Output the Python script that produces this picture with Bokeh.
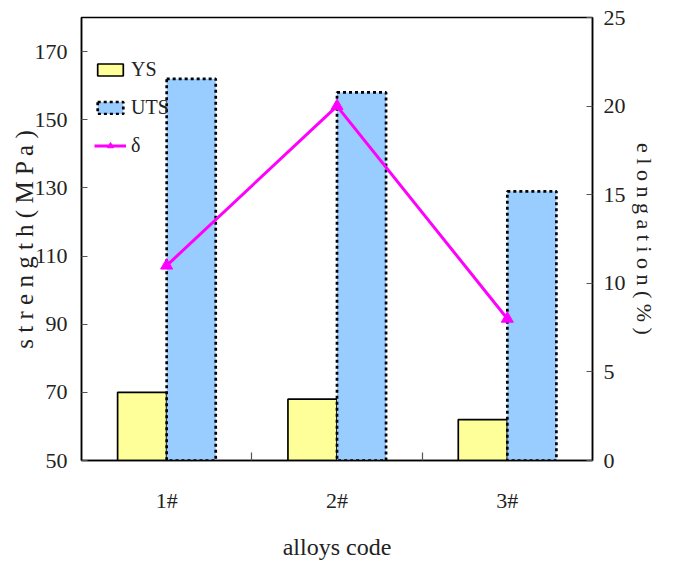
from bokeh.plotting import figure
from bokeh.models import Range1d, LinearAxis, FixedTicker, Legend, LegendItem, ColumnDataSource
from bokeh.embed import file_html
from bokeh.resources import INLINE
import numpy as np

categories = ["1#", "2#", "3#"]
ys_values = [70, 68, 62]
uts_values = [162, 158, 129]
elongation = [11, 20, 8]
strength_ticks = [50, 70, 90, 110, 130, 150, 170]
elong_ticks = [0, 5, 10, 15, 20, 25]

FONT = "Liberation Serif"
xc = np.arange(len(categories)) + 0.5
bw = 0.288

src = ColumnDataSource(dict(
    x_ys=xc - bw / 2, x_uts=xc + bw / 2, xc=xc,
    ys=ys_values, uts=uts_values, el=elongation,
))

p = figure(frame_width=511, frame_height=443, output_backend="svg", toolbar_location=None,
           x_range=Range1d(0, len(categories)), y_range=Range1d(50, 180),
           min_border_left=81, min_border_right=74, min_border_top=17, min_border_bottom=95,
           background_fill_color="white", border_fill_color="white")
p.extra_y_ranges = {"el": Range1d(0, 25)}
p.xgrid.visible = False
p.ygrid.visible = False
p.outline_line_color = "black"
p.outline_line_width = 1.5

ys_r = p.vbar(x="x_ys", top="ys", bottom=50, width=bw, source=src,
              fill_color="#FFFF99", line_color="black", line_width=1.7)
uts_r = p.vbar(x="x_uts", top="uts", bottom=50, width=bw, source=src,
               fill_color="#99CCFF", line_color="black", line_width=2.7, line_dash="3 3")
ln = p.line(x="xc", y="el", source=src, y_range_name="el", line_color="#FF00FF", line_width=3)
mk = p.scatter(x="xc", y="el", source=src, y_range_name="el", marker="triangle", size=12,
               fill_color="#FF00FF", line_color="#FF00FF")

# x axis
xa = p.xaxis[0]
xa.ticker = FixedTicker(ticks=list(xc), minor_ticks=list(np.arange(1, len(categories)).astype(float)))
xa.major_label_overrides = {float(x): c for x, c in zip(xc, categories)}
xa.major_tick_in = 0
xa.major_tick_out = 0
xa.minor_tick_in = 8
xa.minor_tick_out = 0
xa.minor_tick_line_color = "#555555"
xa.minor_tick_line_width = 1.2
xa.axis_label = "alloys code"
xa.major_label_standoff = 27
xa.axis_label_standoff = 18

# left axis
ya = p.yaxis[0]
ya.ticker = FixedTicker(ticks=strength_ticks)
ya.major_tick_in = 6
ya.major_tick_out = 0
ya.minor_tick_in = 0
ya.minor_tick_out = 0
ya.axis_label = "s t r e n g t h ( M P a )"
ya.major_label_standoff = 14
ya.axis_label_standoff = -6

# right axis
ra = LinearAxis(y_range_name="el", ticker=FixedTicker(ticks=elong_ticks),
                axis_label="e l o n g a t i o n ( % )")
ra.major_tick_in = 6
ra.major_tick_out = 0
ra.minor_tick_in = 0
ra.minor_tick_out = 0
ra.major_label_standoff = 11
ra.axis_label_standoff = 3
p.add_layout(ra, "right")

for ax in [xa, ya, ra]:
    ax.axis_line_color = "black"
    ax.axis_line_width = 1.5
    ax.major_tick_line_color = "#555555"
    ax.major_label_text_font = FONT
    ax.major_label_text_font_size = "22px"
    ax.major_label_text_color = "#222222"
    ax.axis_label_text_font = FONT
    ax.axis_label_text_font_style = "normal"
    ax.axis_label_text_color = "#222222"
xa.axis_label_text_font_size = "24px"
ya.axis_label_text_font_size = "25px"
ra.axis_label_text_font_size = "22px"
ya.major_label_orientation = "horizontal"
ra.major_label_orientation = "horizontal"

legend = Legend(items=[
    LegendItem(label="YS", renderers=[ys_r]),
    LegendItem(label="UTS", renderers=[uts_r]),
    LegendItem(label="δ", renderers=[ln, mk]),
], location=(13, 303), border_line_alpha=0, background_fill_alpha=0,
    glyph_width=32, glyph_height=15, label_standoff=5, spacing=15, padding=0, margin=0,
    label_text_font=FONT, label_text_font_size="20px", label_text_color="#222222")
p.add_layout(legend)

open("out.html", "w").write(file_html(p, INLINE))
